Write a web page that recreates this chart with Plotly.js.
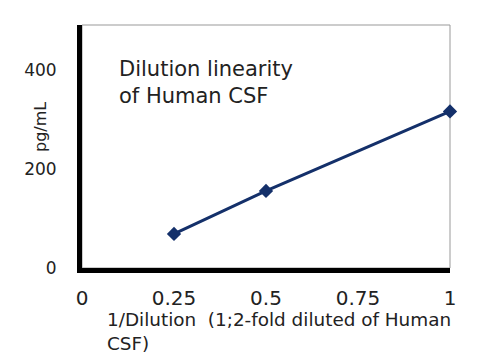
<!DOCTYPE html>
<html><head><meta charset="utf-8">
<script src="https://cdn.plot.ly/plotly-3.0.1.min.js"></script>
<style>html,body{margin:0;padding:0;background:#fff}#chart{width:500px;height:360px}</style>
</head><body><div id="chart"></div>
<script>
const dilution = [0.25, 0.5, 1];
const concentration = [69, 156, 317];
const xTickVals = [0, 0.25, 0.5, 0.75, 1];
const xTickText = ["0", "0.25", "0.5", "0.75", "1"];
const yTickVals = [0, 200, 400];
const yTickText = ["0", "200", "400"];
const chartTitle = "Dilution linearity<br>of Human CSF";
const xTitle = "1/Dilution  (1;2-fold diluted of Human<br>CSF)";
const yTitle = "pg/mL";

const FONT = "DejaVu Sans, Arial, sans-serif";
const L = 82, T = 25, R = 450, B = 268;
const W = R - L, H = B - T;
const trace = {
  x: dilution, y: concentration, type: "scatter", mode: "lines+markers",
  line: {color: "#14306a", width: 3},
  marker: {symbol: "diamond", size: 11, color: "#14306a"},
  cliponaxis: false, showlegend: false, hoverinfo: "none"
};
const layout = {
  width: 500, height: 360,
  margin: {l: L, r: 500 - R, t: T, b: 360 - B},
  paper_bgcolor: "#fff", plot_bgcolor: "#fff",
  font: {family: FONT, color: "#222"},
  xaxis: {range: [0, 1], tickvals: xTickVals, ticktext: xTickText, showgrid: false, zeroline: false,
          showline: true, linecolor: "#000", linewidth: 5, ticks: "", ticklabelstandoff: 8,
          tickfont: {size: 20, family: FONT, color: "#222"}, fixedrange: true},
  yaxis: {range: [0, 492], tickvals: yTickVals, ticktext: yTickText, showgrid: false, zeroline: false,
          showline: true, linecolor: "#000", linewidth: 5, ticks: "", ticklabelstandoff: 17,
          tickfont: {size: 17, family: FONT, color: "#222"}, fixedrange: true},
  shapes: [{type: "rect", xref: "paper", yref: "paper", x0: 0, x1: 1, y0: 0, y1: 1,
            line: {color: "#999", width: 1}, layer: "below"}],
  annotations: [
    {text: chartTitle, xref: "paper", yref: "paper", x: (117-L)/W, y: 1 - (55-T)/H,
     xanchor: "left", yanchor: "top", align: "left", showarrow: false,
     font: {size: 21, family: FONT, color: "#222"}},
    {text: xTitle, xref: "paper", yref: "paper", x: (105-L)/W, y: -(307-B)/H,
     xanchor: "left", yanchor: "top", align: "left", showarrow: false,
     font: {size: 18.4, family: FONT, color: "#222"}},
    {text: yTitle, xref: "paper", yref: "paper", x: (40-L)/W, y: (B-127)/H,
     xanchor: "center", yanchor: "middle", textangle: -90, showarrow: false,
     font: {size: 16, family: FONT, color: "#222"}}
  ]
};
Plotly.newPlot("chart", [trace], layout, {staticPlot: true});
</script></body></html>
